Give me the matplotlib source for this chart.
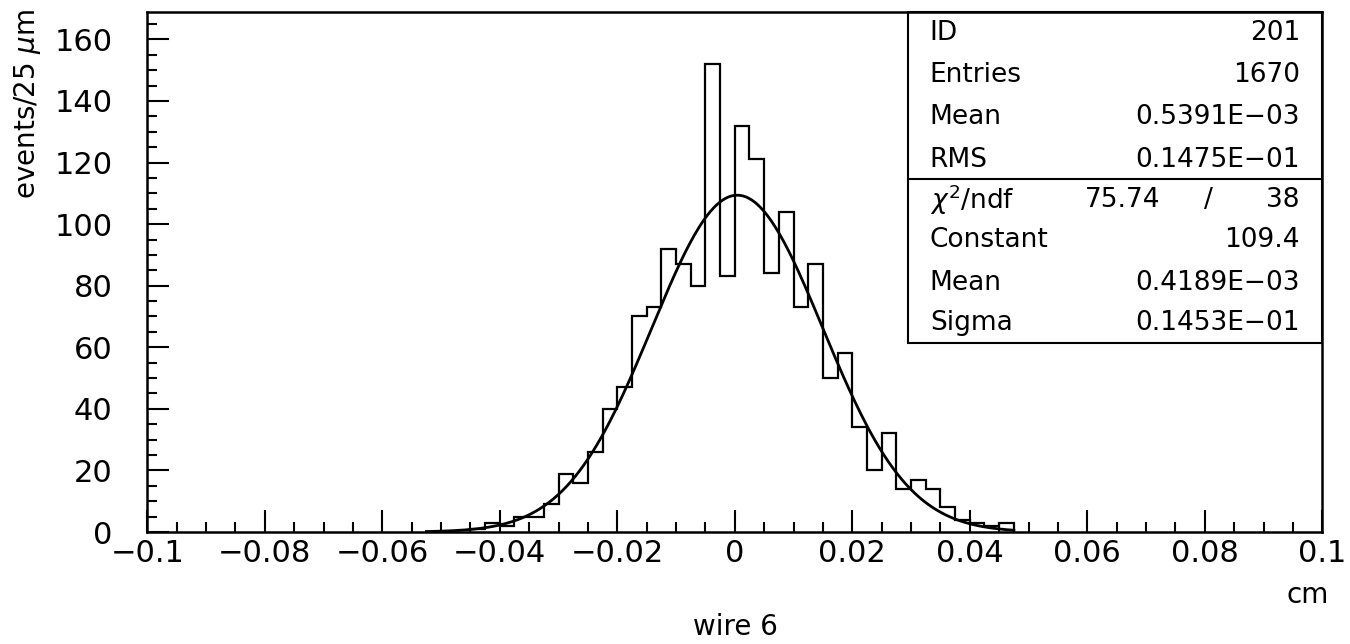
import numpy as np
import matplotlib
matplotlib.use("Agg")
import matplotlib.pyplot as plt
from matplotlib.ticker import MultipleLocator, FuncFormatter
from matplotlib.patches import Rectangle

# histogram 201: residuals for wire 6, 25 um bins starting at -0.045 cm
bin_width = 0.0025
first_edge = -0.045
counts = [1, 3, 2, 5, 5, 9, 19, 16, 26, 40,
          47, 70, 73, 92, 87, 80, 152, 83,
          132, 121, 84, 104, 73, 87, 50, 58,
          34, 20, 32, 14, 17, 14, 8, 4, 3, 2, 3]

# gaussian fit parameters and range
fit_const = 109.4
fit_mean = 0.4189e-03
fit_sigma = 0.1453e-01
fit_range = (-0.0525, 0.0475)

# statistics box
stat_names = ["ID", "Entries", "Mean", "RMS"]
stat_values = ["201", "1670", "0.5391E\u221203", "0.1475E\u221201"]
chi2_text = "75.74"
ndf_text = "38"
fit_names = ["Constant", "Mean", "Sigma"]
fit_values = ["109.4", "0.4189E\u221203", "0.1453E\u221201"]

W, H = 1350, 644
fig = plt.figure(figsize=(W / 100, H / 100), dpi=100)
ax = fig.add_axes([147.3 / W, 112 / H, 1175 / W, 520.3 / H])

edges = first_edge + bin_width * np.arange(len(counts) + 1)
ax.stairs(counts, edges, color="black", linewidth=1.6)

xf = np.linspace(fit_range[0], fit_range[1], 400)
yf = fit_const * np.exp(-0.5 * ((xf - fit_mean) / fit_sigma) ** 2)
ax.plot(xf, yf, color="black", linewidth=2.0)

ax.set_xlim(-0.1, 0.1)
ax.set_ylim(0, 169)

ax.xaxis.set_major_locator(MultipleLocator(0.02))
ax.xaxis.set_minor_locator(MultipleLocator(0.005))
ax.yaxis.set_major_locator(MultipleLocator(20))
ax.yaxis.set_minor_locator(MultipleLocator(5))


def _fmt(v, pos):
    v = round(v, 4)
    if v == 0:
        return "0"
    return f"{v:g}".replace("-", "\u2212")


ax.xaxis.set_major_formatter(FuncFormatter(_fmt))
ax.tick_params(axis="both", which="both", direction="in", top=False, right=False,
               width=1.5, labelsize=22)
ax.tick_params(axis="both", which="major", length=16)
ax.tick_params(axis="both", which="minor", length=7.5)
ax.tick_params(axis="x", which="major", pad=5)
ax.tick_params(axis="y", which="major", pad=25)
for sp in ax.spines.values():
    sp.set_linewidth(1.8)

# stats box
bx0, by0, by_div = 0.6474, 0.3632, 0.6785
ax.add_patch(Rectangle((bx0, by0), 1 - bx0, 1 - by0, transform=ax.transAxes,
                       fill=False, edgecolor="black", linewidth=1.5, clip_on=False))
ax.plot([bx0, 1], [by_div, by_div], transform=ax.transAxes, color="black",
        linewidth=1.5, clip_on=False)

tx_left, tx_right = 0.666, 0.981
rows_top = [0.959, 0.878, 0.798, 0.715]
for name, val, y in zip(stat_names, stat_values, rows_top):
    ax.text(tx_left, y, name, transform=ax.transAxes, fontsize=19, ha="left", va="center")
    ax.text(tx_right, y, val, transform=ax.transAxes, fontsize=19, ha="right", va="center")

ax.text(tx_left, 0.638, r"$\chi^2$/ndf", transform=ax.transAxes, fontsize=19,
        ha="left", va="center")
ax.text(0.862, 0.638, chi2_text, transform=ax.transAxes, fontsize=19, ha="right", va="center")
ax.text(0.903, 0.638, "/", transform=ax.transAxes, fontsize=19, ha="center", va="center")
ax.text(tx_right, 0.638, ndf_text, transform=ax.transAxes, fontsize=19, ha="right", va="center")

rows_bottom = [0.561, 0.479, 0.402]
for name, val, y in zip(fit_names, fit_values, rows_bottom):
    ax.text(tx_left, y, name, transform=ax.transAxes, fontsize=19, ha="left", va="center")
    ax.text(tx_right, y, val, transform=ax.transAxes, fontsize=19, ha="right", va="center")

# axis titles
fig.text(28 / W, 1 - 104 / H, r"events/25 $\mu$m", rotation=90, fontsize=20,
         ha="center", va="center")
fig.text(1308 / W, 1 - 595 / H, "cm", fontsize=20, ha="center", va="center")
fig.text(735 / W, 1 - 627 / H, "wire 6", fontsize=20, ha="center", va="center")

fig.savefig("out.png", dpi=100, facecolor="white")
